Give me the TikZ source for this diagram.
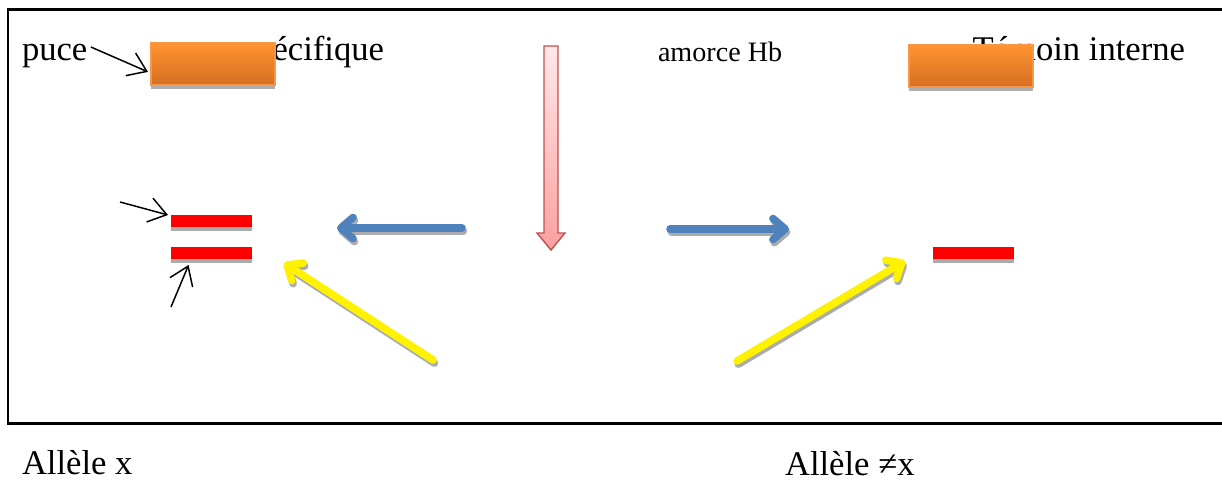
\documentclass[tikz,border=0pt]{standalone}
\usepackage{fontspec}
\setmainfont{Liberation Serif}
\usetikzlibrary{arrows.meta,shadows,positioning}

\definecolor{bleu}{RGB}{79,129,189}
\definecolor{orangeHaut}{RGB}{255,148,48}
\definecolor{orangeBas}{RGB}{214,110,34}
\definecolor{orangeBord}{RGB}{247,150,70}
\definecolor{roseHaut}{RGB}{255,232,232}
\definecolor{roseBas}{RGB}{250,160,160}
\definecolor{rougeBord}{RGB}{192,80,77}

\begin{document}
\begin{tikzpicture}[x=0.02cm, y=-0.02cm,
    every node/.style={inner sep=0pt, outer sep=0pt},
    texte/.style={font=\fontsize{19.7}{23}\selectfont, anchor=base west},
    ombre/.style={drop shadow={shadow xshift=0pt, shadow yshift=-2.4pt, fill=gray!65, opacity=1}},
    boite/.style={draw=orangeBord, line width=0.8pt, top color=orangeHaut, bottom color=orangeBas,
        minimum width=2.48cm, minimum height=0.84cm, ombre},
    bande/.style={fill=red, minimum width=1.62cm, minimum height=0.24cm, ombre},
    fin/.style={line width=0.85pt, -{Straight Barb[length=10pt, width=14pt]}},
    epais/.style={line width=4.3pt, line cap=round, line join=round,
        -{Straight Barb[round, length=7pt, width=12pt]}},
    ombreF/.style={epais, draw=gray!65}]
    \useasboundingbox (0,0) rectangle (1222,480);
    \draw[line width=1.7pt] (8,9.5) rectangle (1240,423.5);

    \node (puce) [texte] at (22,60) {puce};
    \node (specifique) [texte, anchor=base east] at (384,60) {spécifique};
    \node (temoin) [texte, anchor=base east] at (1185,60) {Témoin interne};
    \node (amorce) [texte, font=\fontsize{16}{19}\selectfont] at (658,61) {amorce Hb};
    \node (allele1) [texte] at (22,474) {Allèle x};
    \node (allele2) [texte] at (785,475) {Allèle ≠x};

    \node (puce1) [boite] at (213,64) {};
    \node (puce2) [boite] at (971,66) {};
    \node (bande1) [bande] at (211.5,221) {};
    \node (bande2) [bande, below=0.4cm of bande1] {};
    \node (bande3) [bande] at (973,253) {};

    \coordinate (f1) at (120,202);
    \coordinate (f2) at (171,307);
    \draw[fin] ([shift={(2pt,7.4pt)}]puce.base east) -- ([shift={(-1.7pt,-4.5pt)}]puce1.west);
    \draw[fin] (f1) -- ([shift={(-1.7pt,0pt)}]bande1.north west);
    \draw[fin] (f2) -- ([shift={(10pt,-3.4pt)}]bande2.south west);

    % sonde
    \draw[draw=rougeBord, line width=0.8pt, top color=roseHaut, bottom color=roseBas]
        (544,46) -- (558,46) -- (558,233) -- (565,233) -- (551,250) -- (537,233) -- (544,233) -- cycle;

    \coordinate (b1) at (462,228);
    \coordinate (b2) at (337,228);
    \coordinate (b3) at (670,229);
    \coordinate (b4) at (789,229);
    \coordinate (j1) at (433,360);
    \coordinate (j2) at (284,263);
    \coordinate (j3) at (737,361);
    \coordinate (j4) at (905,261);

    % ombres des fleches
    \foreach \a/\b in {b1/b2, b3/b4, j1/j2, j3/j4}
        \draw[ombreF] ([shift={(0.8pt,-1.8pt)}]\a) -- ([shift={(0.8pt,-1.8pt)}]\b);

    \draw[epais, draw=bleu] (b1) -- (b2);
    \draw[epais, draw=bleu] (b3) -- (b4);
    \draw[epais, draw=yellow] (j1) -- (j2);
    \draw[epais, draw=yellow] (j3) -- (j4);
\end{tikzpicture}
\end{document}
